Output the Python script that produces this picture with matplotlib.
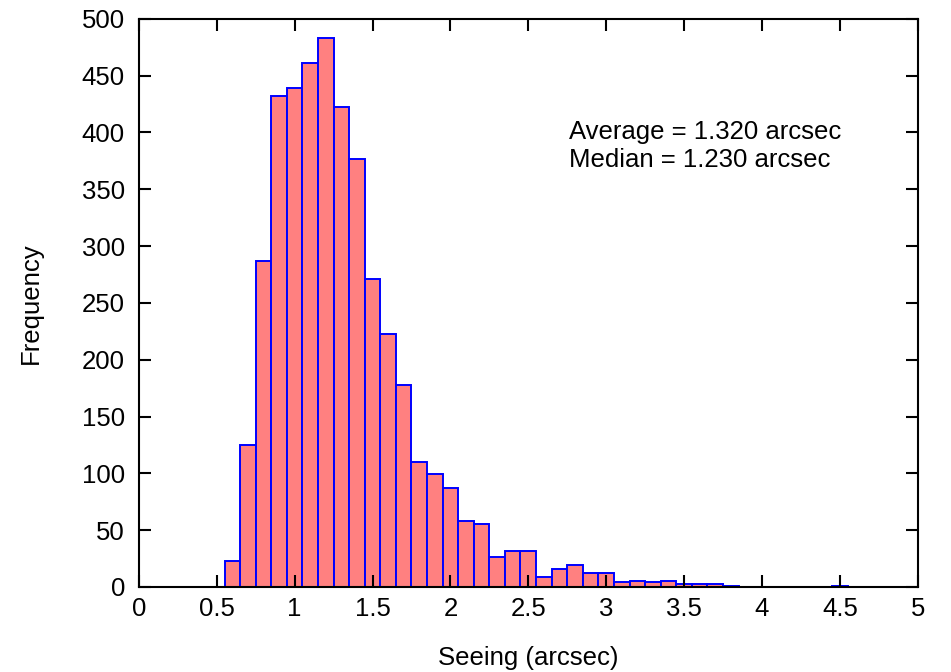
import numpy as np
import matplotlib
matplotlib.use('Agg')
import matplotlib.pyplot as plt

# seeing histogram, bins of 0.1 arcsec (centres)
bin_centres = [0.6, 0.7, 0.8, 0.9, 1.0, 1.1, 1.2, 1.3, 1.4, 1.5,
               1.6, 1.7, 1.8, 1.9, 2.0, 2.1, 2.2, 2.3, 2.4, 2.5,
               2.6, 2.7, 2.8, 2.9, 3.0, 3.1, 3.2, 3.3, 3.4, 3.5,
               3.6, 3.7, 3.8, 4.5]
counts = [23, 125, 287, 432, 439, 461, 483, 422, 377, 271,
          223, 178, 110, 99, 87, 58, 55, 26, 32, 32,
          9, 16, 19, 12, 12, 4, 5, 4, 5, 3,
          3, 3, 1, 1]
bin_width = 0.1

stats_text = ["Average = 1.320 arcsec", "Median = 1.230 arcsec"]

plt.rcParams['font.family'] = ['Liberation Sans', 'DejaVu Sans']
fs = 18.5

fig = plt.figure(figsize=(9.51, 6.72), dpi=100)
ax = fig.add_axes([0.146, 0.1265, 0.819, 0.8455])

ax.bar(bin_centres, counts, width=bin_width, color='#ff8080',
       edgecolor='#0000ff', linewidth=1.4)

ax.set_xlim(0, 5)
ax.set_ylim(0, 500)
ax.set_xticks(np.arange(0, 5.01, 0.5))
ax.set_xticklabels(['0', '0.5', '1', '1.5', '2', '2.5', '3', '3.5', '4', '4.5', '5'])
ax.set_yticks(np.arange(0, 501, 50))

ax.tick_params(direction='in', length=8.5, width=1.5, top=True, right=True,
               labelsize=fs)
ax.tick_params(axis='x', pad=7)
ax.tick_params(axis='y', pad=10)
for s in ax.spines.values():
    s.set_linewidth(1.5)

ax.set_xlabel('Seeing (arcsec)', fontsize=fs, labelpad=18)
ax.set_ylabel('Frequency', fontsize=fs, labelpad=28)

ax.text(2.76, 400, stats_text[0], fontsize=fs, va='center')
ax.text(2.76, 376, stats_text[1], fontsize=fs, va='center')

fig.savefig('out.png', dpi=100)
